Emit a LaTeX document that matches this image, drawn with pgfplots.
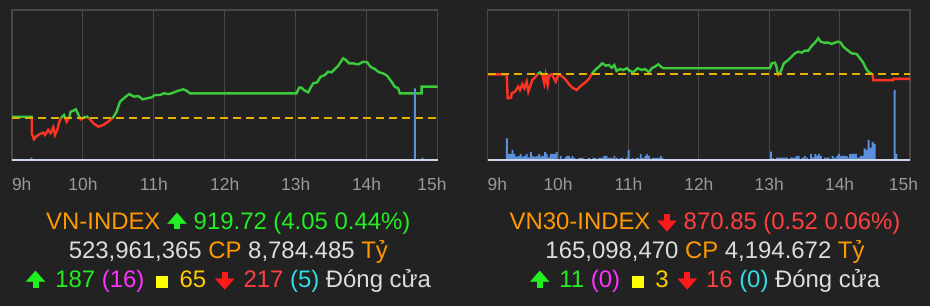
\documentclass[border=0pt]{standalone}
\usepackage{pgfplots}
\pgfplotsset{compat=1.18}
\usepackage{pgfplotstable}
\usepackage{fontspec}
\usepackage{graphicx}
\setmainfont{Liberation Sans}
\newfontfamily\dejavu{DejaVu Sans}

\definecolor{bg}{HTML}{222222}
\definecolor{gridc}{HTML}{474747}
\definecolor{upline}{HTML}{3CCB3C}
\definecolor{downline}{HTML}{FF3322}
\definecolor{refline}{HTML}{E6B000}
\definecolor{volc}{HTML}{5A8FDC}
\definecolor{basec}{HTML}{CDD5EA}
\definecolor{tickc}{HTML}{9A9A9A}
\definecolor{idxorange}{HTML}{FF9900}
\definecolor{txtgreen}{HTML}{22EE22}
\definecolor{txtred}{HTML}{FF4040}
\definecolor{arrred}{HTML}{FF1A1A}
\definecolor{txtgray}{HTML}{DDDDDD}
\definecolor{txtmag}{HTML}{FF33FF}
\definecolor{txtyel}{HTML}{FFFF00}
\definecolor{txtgold}{HTML}{FFCC00}
\definecolor{txtcyan}{HTML}{33DDE6}

\newcommand{\bigf}{\fontsize{24}{28}\selectfont}
\newcommand{\uparr}[1]{\textcolor{#1}{\makebox[20bp][l]{\hspace{7bp}\rule{6bp}{8bp}}\hspace{-20bp}\raisebox{7bp}{\resizebox{20bp}{9.5bp}{\dejavu ▲}}}}
\newcommand{\dnarr}[1]{\textcolor{#1}{\makebox[20bp][l]{\hspace{7bp}\raisebox{7bp}{\rule{6bp}{8.5bp}}}\hspace{-20bp}\raisebox{-1bp}{\resizebox{20bp}{9.5bp}{\dejavu ▼}}}}
\newcommand{\yelsq}{\hspace{5bp}\textcolor{txtyel}{\rule{12bp}{12bp}}\hspace{5bp}}

\pgfplotstableread{
m g r
0 915.87 nan
16.7 915.87 nan
16.7 915.67 915.67
16.7 nan 913.75
18.6 nan 912.98
20.3 nan 913.31
23.7 nan 913.66
26.5 nan 913.83
27.9 nan 913.53
30.7 nan 914.17
32.7 nan 913.75
34.9 nan 914.52
36.4 nan 913.53
38.3 nan 914.17
40.0 nan 915.23
41.5 915.67 915.67
42.0 915.80 nan
44.0 916.09 nan
45.1 915.67 915.67
46.3 nan 915.23
47.9 915.67 915.67
48.5 915.80 nan
49.6 916.51 nan
51.8 916.64 nan
53.9 916.82 nan
55.6 916.31 nan
56.9 915.87 nan
57.6 915.67 915.67
58.1 nan 915.54
60.1 915.67 915.67
60.9 915.80 nan
63.7 915.87 nan
64.9 915.67 915.67
66.0 nan 915.54
68.8 nan 915.03
73.0 nan 914.59
77.2 nan 914.81
81.4 nan 915.23
84.7 915.67 915.67
85.7 915.80 nan
88.5 916.51 nan
91.3 917.79 nan
95.6 918.36 nan
99.2 918.78 nan
103.2 918.43 nan
106.8 918.52 nan
110.5 918.10 nan
114.4 918.23 nan
118.1 918.36 nan
120.9 918.65 nan
125.2 918.65 nan
128.5 918.87 nan
133.0 918.78 nan
136.4 918.95 nan
140.6 919.20 nan
144.9 919.38 nan
147.7 919.20 nan
150.5 918.87 nan
240.8 918.87 nan
243.0 919.59 nan
245.0 919.59 nan
246.9 919.29 nan
250.6 919.00 nan
252.6 919.59 nan
254.8 920.15 nan
258.2 920.28 nan
261.1 921.00 nan
264.7 921.21 nan
267.5 921.64 nan
270.4 921.56 nan
272.3 921.85 nan
276.0 922.40 nan
278.2 922.91 nan
280.2 923.35 nan
282.5 923.13 nan
285.3 922.71 nan
288.6 922.71 nan
292.9 922.58 nan
297.1 922.91 nan
300.5 922.84 nan
303.4 922.27 nan
307.0 921.98 nan
310.6 921.56 nan
314.0 921.43 nan
317.4 921.12 nan
321.1 920.35 nan
323.9 919.71 nan
326.7 919.51 nan
328.1 918.87 nan
346.5 918.87 nan
346.5 919.72 nan
360 919.72 nan
}\leftdata

\pgfplotstableread{
m g r
0 nan 871.35
16.2 nan 871.35
17.0 nan 868.72
19.9 nan 868.78
20.5 nan 869.27
23.3 nan 869.45
26.1 nan 870.00
27.5 nan 869.63
29.5 nan 870.26
31.2 nan 869.82
33.2 nan 870.55
34.6 nan 869.45
36.1 nan 870.00
38.0 nan 870.73
40.3 nan 870.99
42.6 871.37 871.37
44.6 871.58 nan
46.5 871.37 871.37
48.2 nan 870.37
49.4 nan 871.28
51.1 nan 870.18
52.2 nan 871.21
54.5 nan 871.35
58.0 nan 870.55
59.7 nan 871.21
61.6 nan 871.28
63.6 nan 871.10
65.9 nan 870.84
68.7 nan 870.37
72.1 nan 869.89
75.9 nan 869.63
78.7 nan 870.00
82.3 nan 870.37
86.3 nan 870.84
88.6 871.37 871.37
91.5 871.83 nan
94.9 872.20 nan
97.7 872.57 nan
100.6 872.31 nan
103.4 872.38 nan
105.7 872.09 nan
107.9 872.38 nan
109.9 871.72 nan
112.8 871.94 nan
115.6 871.83 nan
118.5 872.02 nan
121.3 871.72 nan
124.1 871.58 nan
127.8 872.02 nan
131.3 871.83 nan
134.1 871.94 nan
137.5 871.58 nan
139.8 872.02 nan
142.6 872.20 nan
145.4 872.46 nan
147.7 872.20 nan
149.7 872.02 nan
240.6 872.02 nan
242.1 872.57 nan
244.9 872.64 nan
246.3 872.13 nan
247.3 871.37 871.37
247.7 nan 871.30
248.2 871.37 871.37
249.7 871.65 nan
252.5 872.57 nan
256.2 872.93 nan
259.1 873.30 nan
261.9 873.67 nan
264.7 873.85 nan
267.6 873.74 nan
270.4 873.96 nan
273.3 873.96 nan
276.1 874.47 nan
279.0 874.84 nan
281.8 875.32 nan
283.8 874.95 nan
286.6 874.84 nan
290.3 874.84 nan
293.2 874.69 nan
296.0 874.84 nan
298.8 874.95 nan
300.9 874.84 nan
303.1 874.40 nan
306.5 874.03 nan
310.2 873.67 nan
314.5 873.59 nan
317.3 873.12 nan
320.1 872.64 nan
322.4 872.02 nan
324.4 871.65 nan
326.4 871.47 nan
328.1 871.37 871.37
328.6 nan 870.72
345.7 nan 870.72
345.7 nan 870.85
360 nan 870.85
}\rightdata

\pgfplotsset{
  priceax/.style={
    scale only axis, height=150bp,
    xmin=0, xmax=360,
    axis line style={gridc, line width=1.3bp},
    xtick={0,60,...,360},
    xmajorgrids, grid style={gridc, line width=1bp},
    ytick=\empty, major tick length=0pt,
    unbounded coords=jump,
    /pgf/number format/assume math mode=true,
    xticklabel style={font=\fontsize{17.5}{20}\selectfont, text=tickc, yshift=-14bp},
  },
  volax/.style={
    scale only axis, height=150bp,
    xmin=0, xmax=360, ymin=0, ymax=150,
    hide axis, clip=false,
  },
}

\begin{document}
\begin{tikzpicture}[x=1bp,y=1bp]
\useasboundingbox (0,0) rectangle (930,306);
\fill[bg] (0,0) rectangle (930,306);

% ---------- VN-INDEX ----------
\begin{axis}[priceax, at={(12bp,146bp)}, anchor=south west, width=425.5bp,
  ymin=910.32, ymax=929.55,
  xticklabels={\makebox[0pt][l]{9h},10h,11h,12h,13h,14h,\makebox[0pt][r]{15h\hspace{-9bp}}}]
\addplot[upline, line width=2.4bp] table[x=m,y=g]{\leftdata};
\addplot[downline, line width=2.4bp] table[x=m,y=r]{\leftdata};
\addplot[refline, line width=2.4bp, dash pattern=on 8bp off 5bp] coordinates {(0,915.67) (360,915.67)};
\end{axis}
\begin{axis}[volax, at={(12bp,146bp)}, anchor=south west, width=425.5bp]
\addplot[ybar, bar width=1.6, bar shift=0pt, fill=volc, draw=none] coordinates {(16.5,2.3) (340.8,71.7) (347.3,2.3)};
\addplot[basec, line width=2.5bp] coordinates {(0,0) (360,0)};
\end{axis}

% ---------- VN30-INDEX ----------
\begin{axis}[priceax, at={(487.7bp,146bp)}, anchor=south west, width=422.3bp,
  ymin=861.93, ymax=878.43,
  xticklabels={\makebox[0pt][l]{9h},10h,11h,12h,13h,14h,\makebox[0pt][r]{15h\hspace{-8bp}}}]
\addplot[upline, line width=2.4bp] table[x=m,y=g]{\rightdata};
\addplot[downline, line width=2.4bp] table[x=m,y=r]{\rightdata};
\addplot[refline, line width=2.4bp, dash pattern=on 8bp off 5bp] coordinates {(0,871.37) (360,871.37)};
\end{axis}
\begin{axis}[volax, at={(487.7bp,146bp)}, anchor=south west, width=422.3bp]
\addplot[ybar, bar width=1.6, bar shift=0pt, fill=volc, draw=none] coordinates {
(16.3,21.7) (18,6) (19.7,6) (21.1,10) (22.8,6) (24.6,3.3) (26.5,4) (28.2,6) (29.5,3.3) (30.6,3.3)
(31.8,4) (33.2,6) (35.1,2.7) (36.8,8) (38.2,4) (39.6,3.3) (41,3.3) (42.4,4) (43.9,6) (45.3,3.3)
(46.6,4) (47.7,4) (48.9,8) (50.3,6) (52.1,2.7) (53.8,6) (55.2,6) (56.9,6) (58.8,8) (62.3,4)
(65.7,2) (67.4,4) (69.2,4) (70.8,2) (72.3,4) (74,2) (78,2) (79.5,2) (81,2) (86.5,2)
(90,2) (91.3,2) (95,2) (96.5,2) (98,2) (99.5,4) (101.2,4) (103,2) (104.5,2) (106.2,2)
(108.1,4) (110.2,2) (113.5,2) (115,2) (118.4,2) (120.1,10) (123.4,2) (126.8,2) (128.3,2) (130.5,6)
(132.3,2) (134.3,4) (136,6) (137.6,4) (140.5,2) (142,2) (143.5,2) (145,2) (146.2,2) (147.5,4) (149,2)
(241.5,8.3) (243.2,1.7) (246.5,2.3) (248.2,2.3) (250,2.3) (251.7,2.3) (253.4,2.3) (255.1,2.3)
(258.4,2.3) (260.1,2.3) (261.8,2.3) (263.5,4) (265.2,4) (268.5,2.3) (270.3,4) (272.2,2.3)
(275.6,6) (277.4,2.7) (279.3,6) (281,4) (282.4,6) (284,4) (287.3,2.3) (289,2.3) (290.7,2.3)
(294,4) (296.1,2.3) (298,4) (299.4,6) (301,4) (302.7,4) (304.4,4) (306,4) (307.1,2.3)
(308.9,6) (310.6,6) (312.3,6) (313.9,6) (315,2.3) (316.5,2.3) (318,4) (319.7,4)
(321.3,11.7) (323,10) (324.7,20) (326.4,12) (328.1,18) (329.8,16) (346.9,70) (348.5,6)};
\addplot[basec, line width=2.5bp] coordinates {(0,0) (360,0)};
\end{axis}

% ---------- summary text ----------
\node[anchor=base, inner sep=0pt, font=\bigf] at (228.3,76.7)
  {\textcolor{idxorange}{VN-INDEX} \uparr{txtgreen} \textcolor{txtgreen}{919.72 (4.05 0.44\%)}};
\node[anchor=base, inner sep=0pt, font=\bigf] at (228.3,48)
  {\textcolor{txtgray}{523,961,365} \textcolor{idxorange}{CP} \textcolor{txtgray}{8,784.485} \textcolor{idxorange}{Tỷ}};
\node[anchor=base, inner sep=0pt, font=\bigf] at (228.3,18.3)
  {\uparr{txtgreen}\hspace{3bp} \textcolor{txtgreen}{187} \textcolor{txtmag}{(16)} \yelsq{} \textcolor{txtgold}{65}\hspace{2bp} \dnarr{arrred}\hspace{2bp} \textcolor{txtred}{217} \textcolor{txtcyan}{(5)} \textcolor{txtgray}{Đóng cửa}};

\node[anchor=base, inner sep=0pt, font=\bigf] at (705,76.7)
  {\textcolor{idxorange}{VN30-INDEX} \dnarr{arrred} \textcolor{txtred}{870.85 (0.52 0.06\%)}};
\node[anchor=base, inner sep=0pt, font=\bigf] at (705,48)
  {\textcolor{txtgray}{165,098,470} \textcolor{idxorange}{CP} \textcolor{txtgray}{4,194.672} \textcolor{idxorange}{Tỷ}};
\node[anchor=base, inner sep=0pt, font=\bigf] at (705,18.3)
  {\uparr{txtgreen}\hspace{3bp} \textcolor{txtgreen}{11} \textcolor{txtmag}{(0)} \yelsq{} \textcolor{txtgold}{3}\hspace{2bp} \dnarr{arrred}\hspace{2bp} \textcolor{txtred}{16} \textcolor{txtcyan}{(0)} \textcolor{txtgray}{Đóng cửa}};
\end{tikzpicture}
\end{document}
